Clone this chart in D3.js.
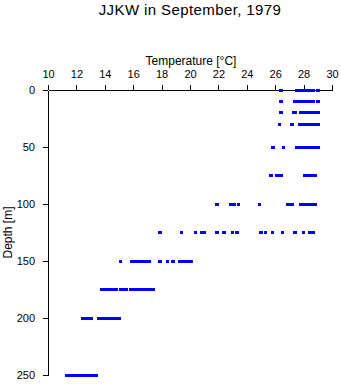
<!DOCTYPE html>
<html>
<head>
<meta charset="utf-8">
<script src="https://cdn.jsdelivr.net/npm/d3@7"></script>
<style>
  body { margin: 0; background: #fff; }
  svg { display: block; font-family: "Liberation Sans", Arial, Helvetica, sans-serif; }
</style>
</head>
<body>
<svg id="chart" width="341" height="384"></svg>
<script>
const title = "JJKW in September, 1979";
const xLabel = "Temperature [°C]";
const yLabel = "Depth [m]";
const xTicks = [10, 12, 14, 16, 18, 20, 22, 24, 26, 28, 30];
const yTicks = [0, 50, 100, 150, 200, 250];

const depths = [0, 10, 20, 30, 50, 75, 100, 125, 150, 175, 200, 250];
const t0   = [26.4, 27.5, 27.6, 27.7, 27.8, 27.9, 28.0, 28.1, 28.2, 28.3, 28.4, 28.5, 28.6, 28.7, 29.0, 29.05];
const t10  = [26.4, 27.4, 27.5, 27.7, 27.8, 27.9, 28.0, 28.2, 28.3, 28.4, 28.5, 28.6, 28.7, 29.0];
const t20  = [26.4, 27.3, 27.4, 27.8, 28.1, 28.2, 28.3, 28.4, 28.5, 28.6, 28.7, 28.9, 29.0];
const t30  = [26.3, 27.2, 27.7, 27.8, 27.9, 28.0, 28.1, 28.2, 28.3, 28.4, 28.5, 28.6, 28.7, 28.8, 28.9, 29.0];
const t50  = [25.85, 26.6, 27.5, 27.6, 27.8, 28.1, 28.2, 28.3, 28.4, 28.5, 28.6, 28.7, 28.8, 28.9, 29.0];
const t75  = [25.7, 26.1, 26.2, 26.4, 28.1, 28.2, 28.3, 28.4, 28.5, 28.6, 28.7, 28.85];
const t100 = [21.9, 22.9, 23.1, 23.4, 24.9, 26.9, 27.2, 27.8, 27.9, 28.1, 28.3, 28.4, 28.5, 28.6, 28.7, 28.8];
const t125 = [17.9, 19.4, 20.4, 20.8, 21.0, 21.9, 22.4, 23.0, 23.3, 25.0, 25.3, 25.8, 26.5, 27.4, 28.0, 28.4, 28.5, 28.7];
const t150 = [15.1, 15.9, 16.1, 16.3, 16.4, 16.7, 16.9, 17.1, 17.9, 18.4, 18.8, 19.3, 19.5, 19.7, 19.9, 20.1];
const t175 = [13.8, 14.0, 14.2, 14.4, 14.6, 14.8, 15.1, 15.3, 15.5, 15.85, 16.0, 16.2, 16.4, 16.6, 16.8, 17.0, 17.2, 17.4];
const t200 = [12.45, 12.65, 12.85, 13.05, 13.6, 13.8, 14.0, 14.2, 14.4, 14.55, 14.8, 15.0];
const t250 = [11.3, 11.5, 11.7, 11.9, 12.1, 12.3, 12.5, 12.7, 12.9, 13.1, 13.3, 13.4];
const temps = [t0, t10, t20, t30, t50, t75, t100, t125, t150, t175, t200, t250];

const points = [];
depths.forEach((d, i) => temps[i].forEach(t => points.push({depth: d, temp: t})));

const svg = d3.select("#chart");
const x = d3.scaleLinear().domain([10, 30]).range([48, 332]);
const y = d3.scaleLinear().domain([0, 250]).range([90, 375]);

svg.append("text")
  .attr("x", 190).attr("y", 15)
  .attr("text-anchor", "middle")
  .attr("font-size", 15)
  .attr("letter-spacing", 0.4)
  .text(title);

const xg = svg.append("g")
  .attr("transform", `translate(0,${y(0)})`)
  .call(d3.axisTop(x).tickValues(xTicks).tickSize(5).tickSizeOuter(0).tickPadding(7));
const yg = svg.append("g")
  .attr("transform", `translate(${x(10)},0)`)
  .call(d3.axisLeft(y).tickValues(yTicks).tickSize(5).tickSizeOuter(0).tickPadding(8));

[xg, yg].forEach(g => {
  g.selectAll("text").attr("font-size", 11).attr("fill", "#000")
    .attr("font-family", '"Liberation Sans", Arial, sans-serif');
  g.selectAll("line").attr("stroke", "#000");
  g.select(".domain").attr("stroke", "#000");
  g.attr("shape-rendering", "crispEdges");
});

svg.append("text")
  .attr("x", 191).attr("y", 65)
  .attr("text-anchor", "middle")
  .attr("font-size", 12)
  .text(xLabel);

svg.append("text")
  .attr("transform", `translate(12,${(y(0) + y(250)) / 2}) rotate(-90)`)
  .attr("text-anchor", "middle")
  .attr("font-size", 12)
  .text(yLabel);

svg.append("g")
  .attr("shape-rendering", "crispEdges")
  .selectAll("rect")
  .data(points)
  .join("rect")
  .attr("x", d => x(d.temp) - 1.75)
  .attr("y", d => y(d.depth) - 1.5)
  .attr("width", 3.5)
  .attr("height", 3)
  .attr("fill", "#0000ff");
</script>
</body>
</html>
